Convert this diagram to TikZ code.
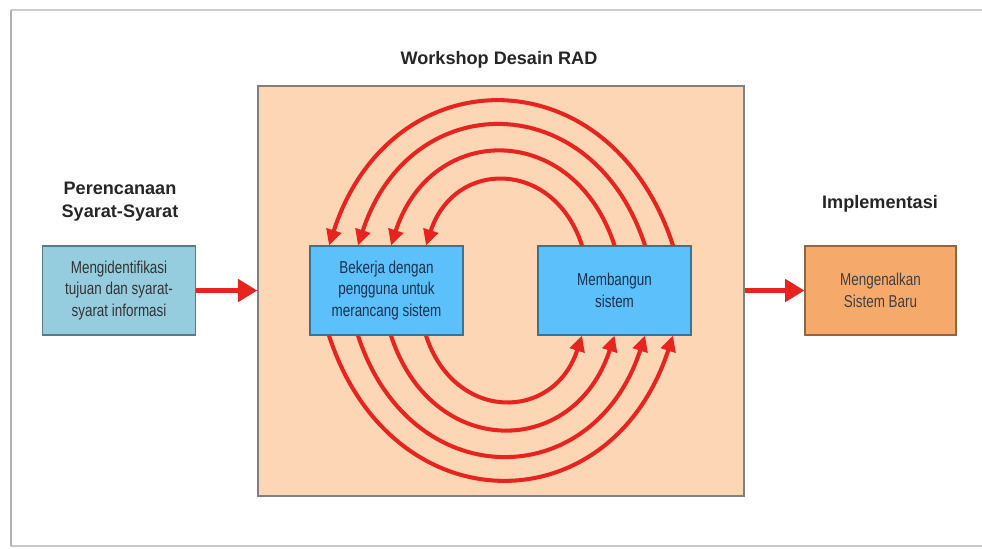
\documentclass[tikz,border=0pt]{standalone}
\usepackage{fontspec}
\setmainfont{Liberation Sans}
\newfontfamily\boxfont{Liberation Sans}[FakeStretch=0.78]
\usepackage{xcolor}
\usepackage{tikz}
\usetikzlibrary{arrows.meta,positioning,shadows}

\definecolor{peach}{HTML}{FCD6B5}
\definecolor{paleblue}{HTML}{96CDDE}
\definecolor{skyblue}{HTML}{5CC1FA}
\definecolor{apricot}{HTML}{F5AA6C}
\definecolor{arrowred}{HTML}{E82420}
\definecolor{navytext}{HTML}{1C3050}

\begin{document}
\begin{tikzpicture}[
		box/.style={draw=#1!60!black, line width=0.6pt, minimum width=3.06cm, minimum height=1.78cm,
			align=center, font=\boxfont\fontsize{9.8}{12.4}\selectfont,
			drop shadow={shadow xshift=0.5pt, shadow yshift=-0.5pt, opacity=0.25}},
		phase/.style={font=\bfseries\fontsize{10.3}{13.2}\selectfont, text=black!85, align=center},
		flow/.style={draw=arrowred, line width=2.8pt, -{Triangle[length=11pt, width=12.5pt]}},
		cycle/.style={draw=arrowred, line width=2.3pt, -{Triangle[length=9pt, width=8.5pt]}}
	]
		\useasboundingbox (0,0) rectangle (19.64,-10.96);

		% page frame
		\draw[black!20, line width=0.8pt] (0.22,-0.2) -- (19.8,-0.2);
		\draw[black!22, line width=1pt] (0.22,-10.92) -- (19.8,-10.92);
		\draw[black!30, line width=1.4pt] (0.22,-0.2) -- (0.22,-10.92);

		% workshop area
		\node[draw=black!50, fill=peach, line width=0.8pt, minimum width=9.72cm, minimum height=8.2cm] (workshop) at (10.02,-5.82) {};
		\node[phase] (workshoptitle) at (9.98,-1.2) {Workshop Desain RAD};

		% phase boxes
		\node[box=paleblue, fill=paleblue, text=black!80] (plan) at (2.38,-5.81) {Mengidentifikasi\\tujuan dan syarat-\\syarat informasi};
		\node[box=skyblue, fill=skyblue, text=navytext] (design) at (7.73,-5.81) {Bekerja dengan\\pengguna untuk\\merancang sistem};
		\node[box=skyblue, fill=skyblue, text=navytext] (build) at (12.29,-5.81) {Membangun\\sistem};
		\node[box=apricot, fill=apricot, minimum width=3.02cm, text=black!75] (impl) at (17.61,-5.81) {Mengenalkan\\Sistem Baru};

		\node[phase] (plantitle) at (2.4,-4.03) {Perencanaan\\Syarat-Syarat};
		\node[phase] (impltitle) at (17.6,-4.08) {Implementasi};

		% into and out of the workshop
		\draw[flow] (plan.east) -- (workshop.west |- plan.east);
		\draw[flow] (workshop.east |- impl.west) -- (impl.west);

		% iterations between design and build
		\foreach \dl/\br in {0.79/-0.65, 0.09/0.0, -0.57/0.61, -1.15/1.17} {
			\draw[cycle] ([xshift=\br cm]build.north) to[out=108, in=72, looseness=1.5] ([xshift=\dl cm]design.north);
			\draw[cycle] ([xshift=\dl cm]design.south) to[out=-72, in=-108, looseness=1.5] ([xshift=\br cm]build.south);
		}
	\end{tikzpicture}
\end{document}
